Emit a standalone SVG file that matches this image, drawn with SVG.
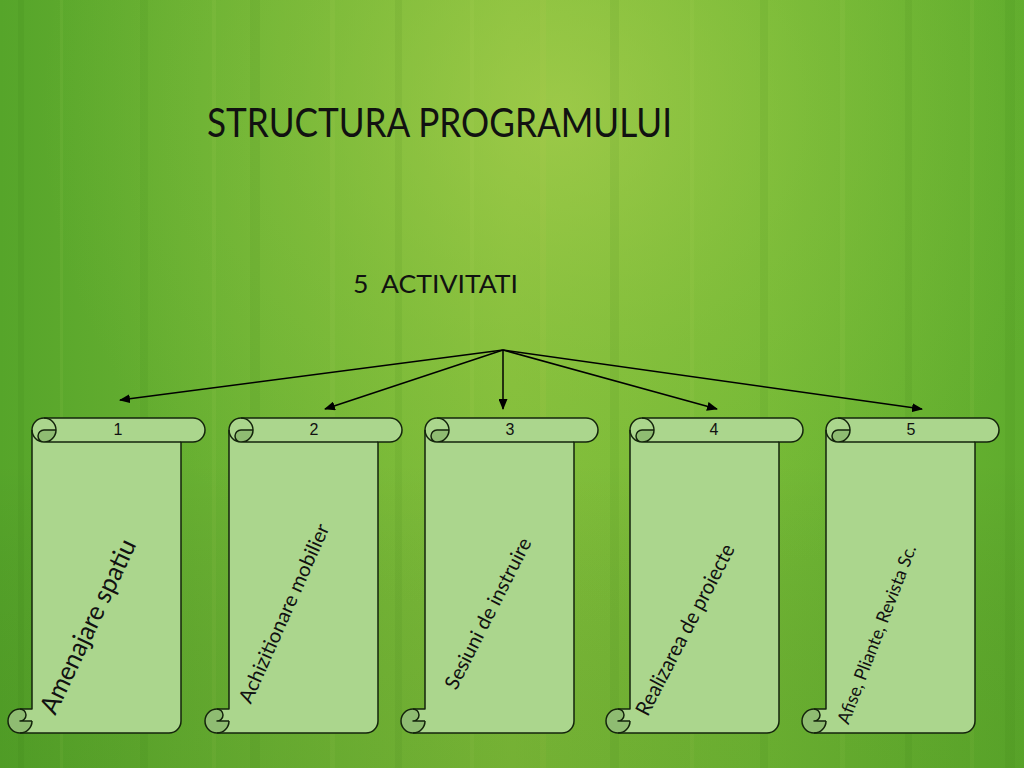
<svg xmlns="http://www.w3.org/2000/svg" xmlns:xlink="http://www.w3.org/1999/xlink" width="1024" height="768" viewBox="0 0 1024 768">
  <defs>
    <linearGradient id="bgH" x1="0" y1="0" x2="1" y2="0">
      <stop offset="0" stop-color="#56a52a"/>
      <stop offset="0.25" stop-color="#6db334"/>
      <stop offset="0.5" stop-color="#80bd3a"/>
      <stop offset="0.75" stop-color="#72b835"/>
      <stop offset="1" stop-color="#5fac2d"/>
    </linearGradient>
    <radialGradient id="glow" cx="560" cy="110" r="520" gradientUnits="userSpaceOnUse">
      <stop offset="0" stop-color="#acd050" stop-opacity="0.65"/>
      <stop offset="0.5" stop-color="#9cc946" stop-opacity="0.28"/>
      <stop offset="1" stop-color="#8cc43e" stop-opacity="0"/>
    </radialGradient>
    <linearGradient id="bgV" x1="0" y1="0" x2="0" y2="1">
      <stop offset="0" stop-color="#000" stop-opacity="0"/>
      <stop offset="0.6" stop-color="#000" stop-opacity="0"/>
      <stop offset="1" stop-color="#1f5a08" stop-opacity="0.12"/>
    </linearGradient>
    <marker id="arr" markerWidth="11" markerHeight="9" refX="10" refY="4.5" orient="auto" markerUnits="userSpaceOnUse">
      <path d="M0,0 L11,4.5 L0,9 Z" fill="#000"/>
    </marker>
    <g id="scroll">
      <path class="sfill" d="M24,291 L24,12 A12,12 0 0 1 36,0 L185,0 A12,12 0 0 1 185,24 L173,24 L173,303 A12,12 0 0 1 161,315 L12,315 A12,12 0 0 1 12,291 Z"/>
      <path class="sdark" d="M48,12 A12,12 0 0 1 36,24 A6,6 0 0 1 36,12 Z"/>
      <path class="sdark" d="M24,303 A12,12 0 1 1 12,291 A6,6 0 0 1 12,303 Z"/>
      <path class="sline" d="M24,291 L24,12 A12,12 0 0 1 36,0 L185,0 A12,12 0 0 1 185,24 L173,24 L173,303 A12,12 0 0 1 161,315 L12,315 A12,12 0 0 1 12,291 Z"/>
      <path class="sline" d="M36,0 A12,12 0 0 1 36,24 A6,6 0 0 1 36,12 L48,12 M173,24 L36,24 M36,24 A12,12 0 0 1 24,12 M12,291 A6,6 0 0 1 12,303 L24,303 M12,315 A12,12 0 0 0 24,303"/>
    </g>
  </defs>
  <style>
    .sfill { fill: #abd68d; }
    .sdark { fill: #8fbc72; }
    .sline { fill: none; stroke: #14240c; stroke-width: 1.5; stroke-linejoin: round; }
    .conn { stroke: #000; stroke-width: 1.5; fill: none; marker-end: url(#arr); }
    .num { font-family: "Liberation Sans", Arial, sans-serif; font-size: 16px; fill: #111; text-anchor: middle; }
    .lbl { font-family: Lato, "Open Sans", sans-serif; fill: #111; text-anchor: middle; dominant-baseline: central; }
    .head { font-family: Lato, "Open Sans", sans-serif; fill: #111; }
  </style>

  <g id="background">
    <rect width="1024" height="768" fill="url(#bgH)"/>
    <rect width="1024" height="768" fill="url(#glow)"/>
    <g opacity="0.07">
      <rect x="18" y="0" width="6" height="768" fill="#2d6e10"/>
      <rect x="60" y="0" width="3" height="768" fill="#c8e070"/>
      <rect x="140" y="0" width="8" height="768" fill="#2d6e10"/>
      <rect x="212" y="0" width="4" height="768" fill="#c8e070"/>
      <rect x="250" y="0" width="10" height="768" fill="#2d6e10"/>
      <rect x="330" y="0" width="5" height="768" fill="#c8e070"/>
      <rect x="395" y="0" width="7" height="768" fill="#2d6e10"/>
      <rect x="470" y="0" width="4" height="768" fill="#c8e070"/>
      <rect x="540" y="0" width="6" height="768" fill="#d8d060"/>
      <rect x="610" y="0" width="9" height="768" fill="#2d6e10"/>
      <rect x="690" y="0" width="4" height="768" fill="#c8e070"/>
      <rect x="760" y="0" width="8" height="768" fill="#2d6e10"/>
      <rect x="840" y="0" width="5" height="768" fill="#c8e070"/>
      <rect x="905" y="0" width="7" height="768" fill="#2d6e10"/>
      <rect x="970" y="0" width="4" height="768" fill="#c8e070"/>
      <rect x="1005" y="0" width="10" height="768" fill="#2d6e10"/>
    </g>
    <rect width="1024" height="768" fill="url(#bgV)"/>
  </g>

  <text id="title" class="head" x="207" y="137" font-size="40" textLength="465" lengthAdjust="spacingAndGlyphs">STRUCTURA PROGRAMULUI</text>
  <text id="subtitle" class="head" x="353" y="293" font-size="25" textLength="165" lengthAdjust="spacingAndGlyphs" style="white-space:pre">5  ACTIVITATI</text>

  <g id="connectors">
    <line class="conn" x1="503" y1="350" x2="120" y2="400"/>
    <line class="conn" x1="503" y1="350" x2="325" y2="409"/>
    <line class="conn" x1="503" y1="350" x2="503" y2="409"/>
    <line class="conn" x1="503" y1="350" x2="717" y2="409"/>
    <line class="conn" x1="503" y1="350" x2="922" y2="409"/>
  </g>

  <g id="node1">
    <use href="#scroll" xlink:href="#scroll" x="8" y="418"/>
    <text class="num" x="118" y="435">1</text>
    <text class="lbl" font-size="26" textLength="190" lengthAdjust="spacingAndGlyphs" transform="translate(87,626) rotate(-64.6)">Amenajare spatiu</text>
  </g>
  <g id="node2">
    <use href="#scroll" xlink:href="#scroll" x="205" y="418"/>
    <text class="num" x="314" y="435">2</text>
    <text class="lbl" font-size="20" textLength="194" lengthAdjust="spacingAndGlyphs" transform="translate(283,613) rotate(-66)">Achizitionare mobilier</text>
  </g>
  <g id="node3">
    <use href="#scroll" xlink:href="#scroll" x="401" y="418"/>
    <text class="num" x="510" y="435">3</text>
    <text class="lbl" font-size="20" textLength="167" lengthAdjust="spacingAndGlyphs" transform="translate(487,613) rotate(-63)">Sesiuni de instruire</text>
  </g>
  <g id="node4">
    <use href="#scroll" xlink:href="#scroll" x="606" y="418"/>
    <text class="num" x="714" y="435">4</text>
    <text class="lbl" font-size="21" textLength="190" lengthAdjust="spacingAndGlyphs" transform="translate(684,629) rotate(-62.5)">Realizarea de proiecte</text>
  </g>
  <g id="node5">
    <use href="#scroll" xlink:href="#scroll" x="802" y="418"/>
    <text class="num" x="911" y="435">5</text>
    <text class="lbl" font-size="18" textLength="190" lengthAdjust="spacingAndGlyphs" transform="translate(876,634) rotate(-69)">Afise, Pliante, Revista Sc.</text>
  </g>
</svg>
